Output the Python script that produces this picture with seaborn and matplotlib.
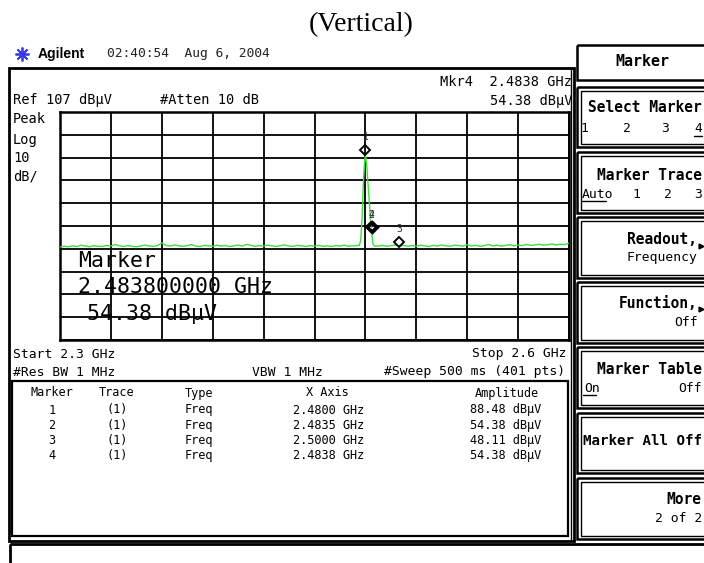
import numpy as np
import pandas as pd
import seaborn as sns
from matplotlib import pyplot as plt
from matplotlib.patches import Rectangle
from matplotlib.transforms import offset_copy

# sweep settings
start_ghz, stop_ghz = 2.3, 2.6
ref_dbuv, db_per_div = 107, 10

# noise floor, one reading every 2.5 MHz
noise_ghz = np.linspace(start_ghz, stop_ghz, 121)
noise_dbuv = [
    47.8, 48.1, 47.9, 48.3, 48.0, 48.6, 48.2, 47.9, 48.4, 48.1,
    48.0, 48.5, 48.2, 48.9, 48.3, 48.0, 48.4, 48.1, 47.9, 48.2,
    48.6, 48.3, 48.0, 48.4, 49.6, 48.5, 48.2, 48.7, 48.3, 48.1,
    48.4, 48.8, 48.2, 48.0, 48.5, 48.3, 48.1, 48.6, 48.2, 48.4,
    48.0, 48.3, 48.7, 48.2, 48.9, 48.5, 48.1, 48.4, 48.2, 48.6,
    48.3, 48.0, 48.4, 48.7, 48.2, 48.1, 48.5, 48.3, 48.0, 48.4,
    48.2, 48.5, 48.1, 48.3, 48.0, 48.4, 48.2, 48.6, 48.1, 48.3,
    48.4, 48.2, 48.5, 48.3, 48.0, 48.2, 48.5, 48.1, 48.4, 48.7,
    48.3, 48.5, 48.1, 48.4, 48.2, 48.6, 48.3, 48.0, 48.5, 48.2,
    48.7, 48.3, 48.1, 48.6, 48.4, 48.2, 48.8, 48.3, 48.5, 48.1,
    48.4, 48.9, 48.3, 48.6, 48.2, 48.5, 48.8, 48.3, 48.6, 48.4,
    48.9, 48.5, 48.7, 49.0, 48.6, 48.8, 49.1, 48.7, 49.0, 48.8,
    49.5,
]

# the carrier around 2.48 GHz (sweep points 0.75 MHz apart)
peak_ghz = [2.4765, 2.47725, 2.4780, 2.47875, 2.4795, 2.4800, 2.48075,
            2.4815, 2.48225, 2.4830, 2.48375, 2.4845, 2.48525]
peak_dbuv = [48.5, 51.0, 60.0, 75.0, 85.0, 88.48, 84.0,
             76.0, 68.0, 60.0, 53.5, 49.0, 48.2]

# marker table
marker_ids = [1, 2, 3, 4]
marker_trace = [1, 1, 1, 1]
marker_type = ["Freq", "Freq", "Freq", "Freq"]
marker_ghz = [2.4800, 2.4835, 2.5000, 2.4838]
marker_dbuv = [88.48, 54.38, 48.11, 54.38]

MONO = "DejaVu Sans Mono"

sns.set_style("white")
plt.rcParams["font.family"] = [MONO, "DejaVu Sans"]

noise = pd.DataFrame({"ghz": noise_ghz, "dbuv": noise_dbuv})
noise = noise[(noise.ghz < peak_ghz[0]) | (noise.ghz > peak_ghz[-1])]
trace = pd.concat([noise, pd.DataFrame({"ghz": peak_ghz, "dbuv": peak_dbuv})])
trace = trace.sort_values("ghz").reset_index(drop=True)

fig = plt.figure(figsize=(7.04, 5.63), dpi=100)

# whole screen in pixel units for text and frames
bg = fig.add_axes([0, 0, 1, 1])
bg.set_xlim(0, 704)
bg.set_ylim(563, 0)
bg.axis("off")


def txt(x, y, s, size, ha="left", weight="normal", family=MONO, color="black"):
    bg.text(x, y, s, fontsize=size, ha=ha, va="center", fontweight=weight,
            family=family, color=color)


def box(x0, y0, x1, y1, lw):
    bg.add_patch(Rectangle((x0, y0), x1 - x0, y1 - y0, fill=False, ec="black", lw=lw))


txt(361, 25, "(Vertical)", 20, ha="center", family="Liberation Serif")

# header line
bg.plot(22, 54, marker=(8, 2, 0), ms=10, color="#3b3bdc", mew=1.3)
bg.plot(22, 54, marker="o", ms=3, color="#3b3bdc")
txt(38, 54, "Agilent", 10, weight="bold", family="Liberation Sans")
txt(107, 54, "02:40:54  Aug 6, 2004", 9.3, color="#222222")

# main display frame and marker table frame
box(8.5, 67.5, 573.5, 540.5, 2.0)
bg.plot([570.5, 570.5], [67.5, 540], color="black", lw=1.0)
box(12, 381, 568, 536, 1.6)

txt(13, 100, "Ref 107 dB\u03bcV", 9.8)
txt(160, 100, "#Atten 10 dB", 9.8)
txt(572, 82, f"Mkr4  {marker_ghz[3]:.4f} GHz", 9.8, ha="right")
txt(572, 101, f"{marker_dbuv[3]:.2f} dB\u03bcV", 9.8, ha="right")
for y, s in zip([119, 140, 158, 177], ["Peak", "Log", "10", "dB/"]):
    txt(13, y, s, 9.8)

# active marker readout, drawn under the graticule
txt(78, 261, "Marker", 15.5)
txt(78, 287, f"{marker_ghz[3]:.9f} GHz", 15.5)
txt(87, 314, f"{marker_dbuv[3]:.2f} dB\u03bcV", 15.5)

txt(13, 354, f"Start {start_ghz} GHz", 9.4)
txt(13, 372, "#Res BW 1 MHz", 9.4)
txt(252, 372, "VBW 1 MHz", 9.4)
txt(566, 354, f"Stop {stop_ghz} GHz", 9.4, ha="right")
txt(565, 372, "#Sweep 500 ms (401 pts)", 9.4, ha="right")

# marker table rows
txt(52, 393, "Marker", 8.6, ha="center")
txt(117, 393, "Trace", 8.6, ha="center")
txt(185, 393, "Type", 8.6)
txt(327, 393, "X Axis", 8.6, ha="center")
txt(539, 393, "Amplitude", 8.6, ha="right")
for i, (mid, tr, ty, g, a) in enumerate(zip(marker_ids, marker_trace, marker_type,
                                             marker_ghz, marker_dbuv)):
    y = 410 + 15.3 * i
    txt(52, y, str(mid), 8.6, ha="center")
    txt(117, y, f"({tr})", 8.6, ha="center")
    txt(185, y, ty, 8.6)
    txt(293, y, f"{g:.4f} GHz", 8.6)
    txt(541, y, f"{a:.2f} dB\u03bcV", 8.6, ha="right")

# softkey panel (the right edge runs off the screen capture)
box(577, 45, 720, 80, 1.8)
txt(642, 62, "Marker", 10.8, ha="center", weight="bold")
for y0, y1 in [(87, 147), (152, 213), (217, 278), (282, 343),
               (347, 408), (413, 473), (478, 539)]:
    box(577, y0, 720, y1, 1.8)
    box(580.5, y0 + 3.5, 720, y1 - 3.5, 1.0)

txt(702, 108, "Select Marker", 10.5, ha="right", weight="bold")
for x, s in zip([584, 627, 665, 698], ["1", "2", "3", "4"]):
    txt(x, 129, s, 9.4, ha="center")
bg.plot([694, 702], [135.5, 135.5], color="black", lw=1)

txt(702, 176, "Marker Trace", 10.5, ha="right", weight="bold")
txt(582, 194, "Auto", 9.4)
for x, s in zip([636, 668, 698], ["1", "2", "3"]):
    txt(x, 194, s, 9.4, ha="center")
bg.plot([582, 606], [200.5, 200.5], color="black", lw=1)

txt(697, 239, "Readout,", 10.5, ha="right", weight="bold")
txt(697, 258, "Frequency", 9.4, ha="right")
bg.plot(700.5, 246, marker=">", ms=3.5, color="black")

txt(697, 303, "Function,", 10.5, ha="right", weight="bold")
txt(698, 322, "Off", 9.4, ha="right")
bg.plot(700.5, 309, marker=">", ms=3.5, color="black")

txt(702, 370, "Marker Table", 10.5, ha="right", weight="bold")
txt(584, 388, "On", 9.4)
txt(702, 388, "Off", 9.4, ha="right")
bg.plot([583, 596], [394.5, 394.5], color="black", lw=1)

txt(702, 441, "Marker All Off", 10.2, ha="right", weight="bold")
txt(701, 500, "More", 10.5, ha="right", weight="bold")
txt(702, 518, "2 of 2", 9.4, ha="right")

# status line at the bottom
box(10, 544, 720, 580, 2.0)

# graticule: 10 x 10 divisions
ax = fig.add_axes([60 / 704, 1 - 340 / 563, 509 / 704, 228 / 563])
ax.patch.set_alpha(0)
sns.lineplot(data=trace, x="ghz", y="dbuv", ax=ax, color="#3fdc3f", lw=1.0, zorder=3)
ax.set_xlim(start_ghz, stop_ghz)
ax.set_ylim(ref_dbuv - 10 * db_per_div, ref_dbuv)
ax.set_xticks(np.linspace(start_ghz, stop_ghz, 11))
ax.set_yticks(np.arange(ref_dbuv - 10 * db_per_div, ref_dbuv + 1, db_per_div))
ax.grid(True, color="black", lw=1.3)
ax.tick_params(length=0, labelbottom=False, labelleft=False)
ax.set_xlabel("")
ax.set_ylabel("")
for sp in ax.spines.values():
    sp.set_color("black")
    sp.set_linewidth(1.8)

# marker diamonds sit a few pixels above the trace point
up = offset_copy(ax.transData, fig=fig, x=0, y=4.5, units="dots")
for mid, g, a in zip(marker_ids, marker_ghz, marker_dbuv):
    ax.plot(g, a, "D", ms=4.6, mfc="none", mec="black",
            mew=2.3 if mid == 4 else 1.4, transform=up, zorder=5)
    ax.annotate(str(mid), (g, a), xytext=(0, 17), textcoords="offset pixels",
                ha="center", va="center", fontsize=7, color="#333333")

fig.savefig("out.png", dpi=100)
